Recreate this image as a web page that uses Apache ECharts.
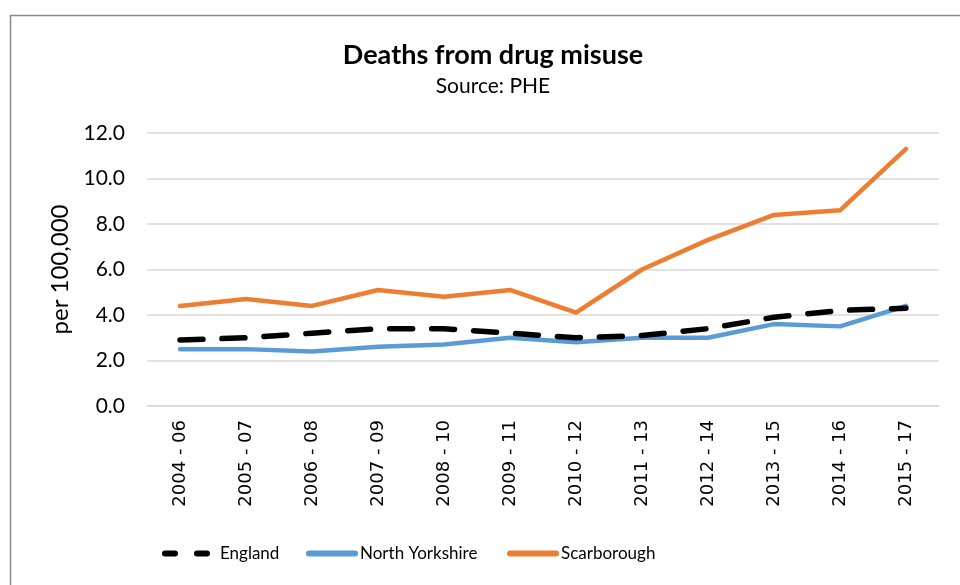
<!DOCTYPE html>
<html><head><meta charset="utf-8">
<script src="https://cdn.jsdelivr.net/npm/echarts@6/dist/echarts.min.js"></script>
<style>html,body{margin:0;padding:0;background:#fff}#c{width:960px;height:585px}</style>
</head><body><div id="c"></div>
<script>
const categories = ['2004 - 06','2005 - 07','2006 - 08','2007 - 09','2008 - 10','2009 - 11','2010 - 12','2011 - 13','2012 - 14','2013 - 15','2014 - 16','2015 - 17'];
const england = [2.9,3.0,3.2,3.4,3.4,3.2,3.0,3.1,3.4,3.9,4.2,4.3];
const northYorkshire = [2.5,2.5,2.4,2.6,2.7,3.0,2.8,3.0,3.0,3.6,3.5,4.4];
const scarborough = [4.4,4.7,4.4,5.1,4.8,5.1,4.1,6.0,7.3,8.4,8.6,11.3];
const yTicks = [0,2,4,6,8,10,12];

const chart = echarts.init(document.getElementById('c'), null, {renderer:'canvas'});
const font = 'Lato, "Open Sans", sans-serif';
const legendText = {fontFamily:font,fontSize:17,color:'#000'};
const dashIcon = 'path://M3,0h10a3,3 0 0 1 0,6h-10a3,3 0 0 1 0,-6z M35,0h10a3,3 0 0 1 0,6h-10a3,3 0 0 1 0,-6z';
const solidIcon = 'path://M3,0h46a3,3 0 0 1 0,6h-46a3,3 0 0 1 0,-6z';
chart.setOption({
  animation:false,
  backgroundColor:'#fff',
  graphic:[{type:'rect',left:8,top:13,shape:{width:960,height:580},style:{fill:'none',stroke:'#898989',lineWidth:1.5},z:-1}],
  title:{text:'Deaths from drug misuse',subtext:'Source: PHE',left:488,textAlign:'center',top:37,itemGap:7,
    textStyle:{fontFamily:font,fontWeight:'bold',fontSize:27,color:'#000'},
    subtextStyle:{fontFamily:font,fontSize:21,color:'#000'}},
  grid:{left:147,right:21,top:133,bottom:179},
  legend:[
    {data:['England'],left:157,top:540,itemWidth:48,itemHeight:6,icon:dashIcon,textStyle:Object.assign({padding:[0,0,0,5]},legendText)},
    {data:['North Yorkshire'],left:301,top:540,itemWidth:52,itemHeight:6,icon:solidIcon,textStyle:Object.assign({padding:[0,0,0,-3]},legendText)},
    {data:['Scarborough'],left:502,top:540,itemWidth:52,itemHeight:6,icon:solidIcon,textStyle:Object.assign({padding:[0,0,0,-3]},legendText)}
  ],
  xAxis:{type:'category',data:categories,boundaryGap:true,
    axisLine:{show:true,lineStyle:{color:'#d9d9d9',width:1.5}},axisTick:{show:false},
    axisLabel:{rotate:90,margin:14,fontFamily:'"DejaVu Sans", Verdana, sans-serif',fontSize:18,color:'#000',interval:0}},
  yAxis:{type:'value',min:yTicks[0],max:yTicks[yTicks.length-1],interval:2,
    name:'per 100,000',nameLocation:'middle',nameGap:72,nameRotate:90,
    nameTextStyle:{fontFamily:font,fontSize:24,color:'#000'},
    axisLine:{show:false},axisTick:{show:false},
    axisLabel:{formatter:v=>v.toFixed(1),fontFamily:font,fontSize:21,color:'#000',margin:22},
    splitLine:{lineStyle:{color:'#d9d9d9',width:1.5}}},
  series:[
    {name:'England',type:'line',data:england,symbol:'none',color:'#000',
      lineStyle:{color:'#000',width:5.5,type:[23,19],cap:'round'},z:3},
    {name:'North Yorkshire',type:'line',data:northYorkshire,symbol:'none',color:'#5B9BD5',
      lineStyle:{color:'#5B9BD5',width:4.5,cap:'round',join:'round'},z:2},
    {name:'Scarborough',type:'line',data:scarborough,symbol:'none',color:'#ED7D31',
      lineStyle:{color:'#ED7D31',width:4.5,cap:'round',join:'round'},z:2}
  ]
});
</script></body></html>
